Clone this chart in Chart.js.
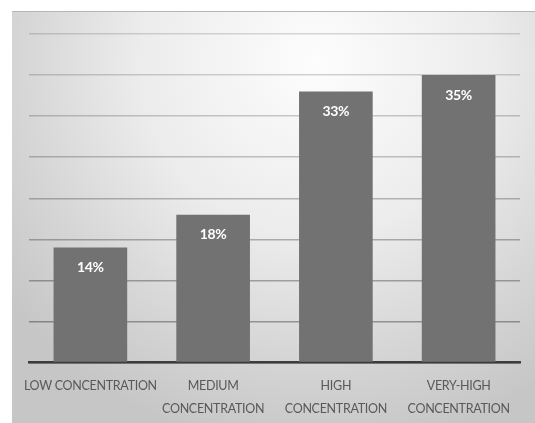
<!DOCTYPE html>
<html>
<head>
<meta charset="utf-8">
<script src="https://cdn.jsdelivr.net/npm/chart.js@4/dist/chart.umd.min.js"></script>
<style>
  html, body { margin: 0; padding: 0; background: #ffffff; }
  body { width: 535px; height: 423px; position: relative; overflow: hidden; }
  #panel {
    position: absolute; left: 12px; top: 11px; width: 523px; height: 412px;
    border-top: 1px solid #b4b4b4;
    box-sizing: border-box;
    overflow: hidden;
    background: radial-gradient(ellipse 75% 95% at 58% 12%, #fdfdfd 0%, #ececec 45%, #d6d6d6 75%, #c6c6c6 100%);
  }
  #panel canvas { position: absolute; left: 0; top: 0; }
</style>
</head>
<body>
<div id="panel"><canvas id="chart" width="523" height="422"></canvas></div>
<script>
// Share of samples per concentration class
const categories = [
  "LOW CONCENTRATION",
  ["MEDIUM", "CONCENTRATION"],
  ["HIGH", "CONCENTRATION"],
  ["VERY-HIGH", "CONCENTRATION"]
];
const shares = [14, 18, 33, 35];
const gridSteps = [0, 5, 10, 15, 20, 25, 30, 35, 40];

// Slightly tighter letter spacing for the condensed-looking category text
const tightText = {
  id: 'tightText',
  beforeDraw(chart) {
    if ('letterSpacing' in chart.ctx) chart.ctx.letterSpacing = '-0.3px';
  }
};

// White value labels placed inside the top of each bar
const valueLabels = {
  id: 'valueLabels',
  afterDatasetsDraw(chart) {
    const ctx = chart.ctx;
    const meta = chart.getDatasetMeta(0);
    ctx.save();
    ctx.fillStyle = '#ffffff';
    ctx.font = 'bold 14px Lato, "Open Sans", sans-serif';
    ctx.textAlign = 'center';
    ctx.textBaseline = 'middle';
    meta.data.forEach((bar, i) => {
      ctx.fillText(shares[i] + '%', bar.x, bar.y + 20);
    });
    ctx.restore();
  }
};

new Chart(document.getElementById('chart'), {
  type: 'bar',
  data: {
    labels: categories,
    datasets: [{
      data: shares,
      backgroundColor: '#727272',
      borderWidth: 0,
      categoryPercentage: 1,
      barPercentage: 0.6
    }]
  },
  options: {
    responsive: false,
    animation: false,
    devicePixelRatio: 1,
    layout: { padding: { left: 17, right: 15, top: 22, bottom: 2 } },
    plugins: { legend: { display: false }, tooltip: { enabled: false } },
    scales: {
      x: {
        z: 2,
        afterFit(scale) { scale.paddingLeft = 0; scale.paddingRight = 0; },
        grid: { display: false, drawTicks: false },
        border: { display: true, color: '#3c3c3c', width: 2.5 },
        ticks: {
          color: '#595959',
          padding: 12,
          maxRotation: 0,
          autoSkip: false,
          font: { family: 'Lato, "Open Sans", sans-serif', size: 12.5, lineHeight: 1.82 }
        }
      },
      y: {
        z: 1,
        min: 0,
        max: 40,
        afterBuildTicks(axis) { axis.ticks = gridSteps.map(v => ({ value: v })); },
        grid: {
          // lines fade toward the top of the plot
          color: (c) => 'rgba(0,0,0,' + (0.36 - (c.tick ? c.tick.value : 0) * 0.0055).toFixed(3) + ')',
          lineWidth: 1.5,
          drawTicks: false
        },
        border: { display: false },
        ticks: { display: false }
      }
    }
  },
  plugins: [tightText, valueLabels]
});
</script>
</body>
</html>
